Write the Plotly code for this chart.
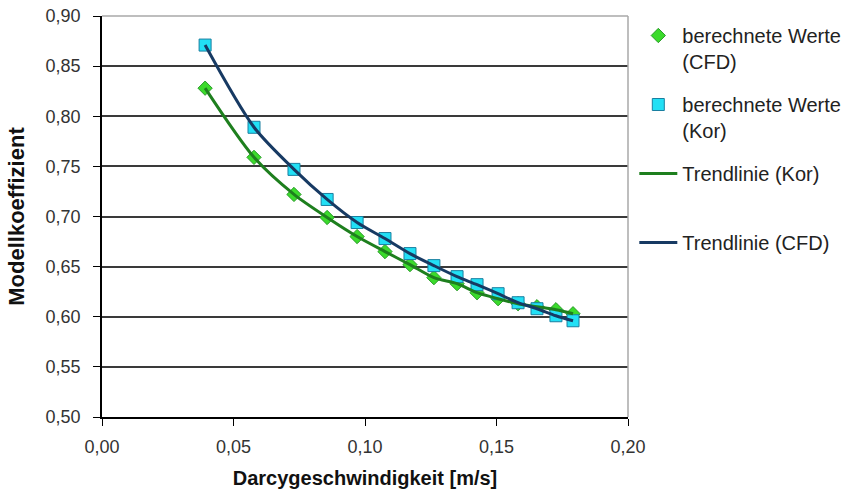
import plotly.graph_objects as go

# Darcy velocity [m/s]
x_vals = [0.0392, 0.0578, 0.0730, 0.0856, 0.0970, 0.1076, 0.1171, 0.1262,
          0.1350, 0.1426, 0.1506, 0.1582, 0.1654, 0.1726, 0.1791]
# computed values (CFD) - diamonds
y_cfd = [0.828, 0.759, 0.722, 0.699, 0.680, 0.665, 0.652, 0.639,
         0.633, 0.624, 0.618, 0.613, 0.610, 0.607, 0.603]
# computed values (Kor) - squares
y_kor = [0.871, 0.789, 0.747, 0.717, 0.694, 0.678, 0.663, 0.651,
         0.640, 0.632, 0.623, 0.614, 0.608, 0.601, 0.596]

x_ticks = [0.0, 0.05, 0.10, 0.15, 0.20]
y_ticks = [0.50, 0.55, 0.60, 0.65, 0.70, 0.75, 0.80, 0.85, 0.90]

FONT = "Liberation Sans, Arial, sans-serif"

fig = go.Figure()

fig.add_trace(go.Scatter(
    x=x_vals, y=y_cfd, mode="markers", name="berechnete Werte<br>(CFD)",
    legendgroup="a",
    marker=dict(symbol="diamond", size=11, color="#3BDB2B",
                line=dict(color="#2A9A2A", width=1))))
fig.add_trace(go.Scatter(
    x=x_vals, y=y_kor, mode="markers", name="berechnete Werte<br>(Kor)",
    legendgroup="b",
    marker=dict(symbol="square", size=12, color="#22E0F5",
                line=dict(color="#1A7FA0", width=1))))
fig.add_trace(go.Scatter(
    x=x_vals, y=y_cfd, mode="lines", name="Trendlinie (Kor)<br> ",
    legendgroup="c",
    line=dict(color="#1E7F1E", width=3, shape="spline", smoothing=0.8)))
fig.add_trace(go.Scatter(
    x=x_vals, y=y_kor, mode="lines", name="Trendlinie (CFD)<br> ",
    legendgroup="d",
    line=dict(color="#173A63", width=3, shape="spline", smoothing=0.8)))

# light gray frame (top / right border)
fig.add_shape(type="line", xref="paper", yref="paper", x0=0, y0=1, x1=1, y1=1,
              line=dict(color="#A8A8A8", width=1.5), layer="above")
fig.add_shape(type="line", xref="paper", yref="paper", x0=1, y0=0, x1=1, y1=1,
              line=dict(color="#A8A8A8", width=1.5), layer="above")

fig.update_layout(
    width=858, height=497,
    margin=dict(l=102, r=230, t=16, b=80),
    paper_bgcolor="white", plot_bgcolor="white",
    separators=",.",
    font=dict(family=FONT, size=15, color="#333333"),
    showlegend=True,
    legend=dict(x=1.012, y=1.0, xanchor="left", yanchor="top",
                font=dict(family=FONT, size=20, color="#222222"),
                valign="top",
                tracegroupgap=14, itemwidth=38, bgcolor="rgba(0,0,0,0)"),
    xaxis=dict(range=[0, 0.20], tickvals=x_ticks, tickformat=".2f",
               showgrid=False, zeroline=False, automargin=False,
               showline=True, linecolor="#000000", linewidth=1.5,
               ticks="outside", ticklen=7, tickcolor="#000000",
               ticklabelstandoff=6,
               tickfont=dict(family=FONT, size=18, color="#333333"),
               title=dict(text="<b>Darcygeschwindigkeit [m/s]</b>",
                          font=dict(family=FONT, size=20, color="#111111"))),
    yaxis=dict(range=[0.50, 0.90], tickvals=y_ticks, tickformat=".2f",
               showgrid=True, gridcolor="#3A3A3A", gridwidth=1.5,
               zeroline=False, automargin=False,
               showline=True, linecolor="#000000", linewidth=1.5,
               ticks="outside", ticklen=7, tickcolor="#000000",
               ticklabelstandoff=9,
               tickfont=dict(family=FONT, size=18, color="#333333"),
               title=dict(text="<b>Modellkoeffizient</b>",
                          font=dict(family=FONT, size=22, color="#111111"))),
)

fig.write_html("out.html", config={"displayModeBar": False},
               post_script="document.body.style.margin='0';")
